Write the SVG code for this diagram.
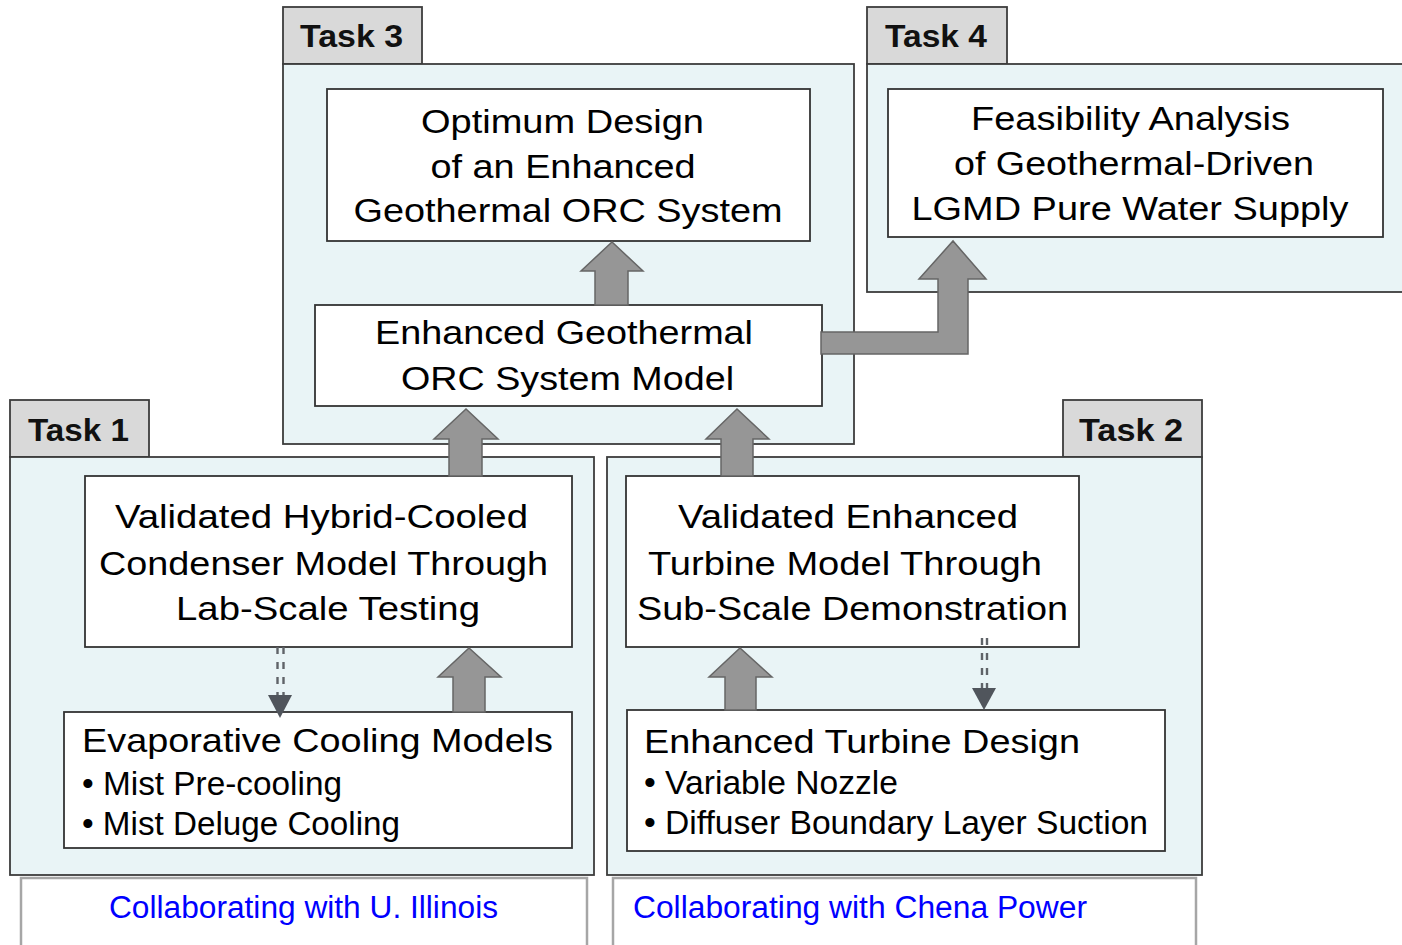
<svg xmlns="http://www.w3.org/2000/svg" width="1402" height="945" viewBox="0 0 1402 945">
<style>
.panel{fill:#e9f4f6;stroke:#3c3c3c;stroke-width:1.8}
.tab{fill:#d9d9d9;stroke:#3c3c3c;stroke-width:1.8}
.box{fill:#ffffff;stroke:#333333;stroke-width:1.8}
.collab{fill:#ffffff;stroke:#a6a6a6;stroke-width:2.5}
.tl{font-family:"Liberation Sans",Arial,sans-serif;font-weight:bold;font-size:32px;fill:#111}
.t{font-family:"Liberation Sans",Arial,sans-serif;font-size:34px;fill:#000}
.c{text-anchor:middle}
.blue{font-family:"Liberation Sans",Arial,sans-serif;font-size:31px;fill:#0000ff}
.fat{fill:#969696;stroke:#666666;stroke-width:1.5;stroke-linejoin:miter}
.dash{stroke:#5f6368;stroke-width:2.4;stroke-dasharray:7 8;fill:none}
.head{fill:#50555c}
</style>
<rect width="1402" height="945" fill="#ffffff"/>

<g id="task3">
<rect class="tab" x="283" y="7" width="139" height="57"/>
<rect class="panel" x="283" y="64" width="571" height="380"/>
<text class="tl" x="300" y="47" textLength="103" lengthAdjust="spacingAndGlyphs">Task 3</text>
</g>
<g id="task4">
<rect class="tab" x="867" y="7" width="140" height="57"/>
<rect class="panel" x="867" y="64" width="545" height="228"/>
<text class="tl" x="885" y="47" textLength="102" lengthAdjust="spacingAndGlyphs">Task 4</text>
</g>
<g id="task1">
<rect class="tab" x="10" y="400" width="139" height="57"/>
<rect class="panel" x="10" y="457" width="584" height="418"/>
<text class="tl" x="28" y="441" textLength="101" lengthAdjust="spacingAndGlyphs">Task 1</text>
</g>
<g id="task2">
<rect class="tab" x="1063" y="400" width="139" height="57"/>
<rect class="panel" x="607" y="457" width="595" height="418"/>
<text class="tl" x="1079" y="441" textLength="104" lengthAdjust="spacingAndGlyphs">Task 2</text>
</g>

<g id="optimum">
<rect class="box" x="327" y="89" width="483" height="152"/>
<text class="t c" x="562.5" y="133" textLength="283" lengthAdjust="spacingAndGlyphs">Optimum Design</text>
<text class="t c" x="563" y="178" textLength="265" lengthAdjust="spacingAndGlyphs">of an Enhanced</text>
<text class="t c" x="568" y="222" textLength="429" lengthAdjust="spacingAndGlyphs">Geothermal ORC System</text>
</g>
<g id="model">
<rect class="box" x="315" y="305" width="507" height="101"/>
<text class="t c" x="564" y="344" textLength="378" lengthAdjust="spacingAndGlyphs">Enhanced Geothermal</text>
<text class="t c" x="567.5" y="390" textLength="333" lengthAdjust="spacingAndGlyphs">ORC System Model</text>
</g>
<g id="feasibility">
<rect class="box" x="888" y="89" width="495" height="148"/>
<text class="t c" x="1130.5" y="130" textLength="319" lengthAdjust="spacingAndGlyphs">Feasibility Analysis</text>
<text class="t c" x="1134" y="175" textLength="360" lengthAdjust="spacingAndGlyphs">of Geothermal-Driven</text>
<text class="t c" x="1130" y="220" textLength="437" lengthAdjust="spacingAndGlyphs">LGMD Pure Water Supply</text>
</g>
<g id="condenser">
<rect class="box" x="85" y="476" width="487" height="171"/>
<text class="t c" x="321.5" y="528" textLength="413" lengthAdjust="spacingAndGlyphs">Validated Hybrid-Cooled</text>
<text class="t c" x="323.5" y="575" textLength="449" lengthAdjust="spacingAndGlyphs">Condenser Model Through</text>
<text class="t c" x="328" y="620" textLength="304" lengthAdjust="spacingAndGlyphs">Lab-Scale Testing</text>
</g>
<g id="evaporative">
<rect class="box" x="64" y="712" width="508" height="136"/>
<text class="t" x="82" y="752" textLength="471" lengthAdjust="spacingAndGlyphs">Evaporative Cooling Models</text>
<text class="t" x="82" y="795" textLength="260" lengthAdjust="spacingAndGlyphs">• Mist Pre-cooling</text>
<text class="t" x="82" y="835" textLength="318" lengthAdjust="spacingAndGlyphs">• Mist Deluge Cooling</text>
</g>
<g id="turbine">
<rect class="box" x="626" y="476" width="453" height="171"/>
<text class="t c" x="848" y="528" textLength="340" lengthAdjust="spacingAndGlyphs">Validated Enhanced</text>
<text class="t c" x="845" y="575" textLength="394" lengthAdjust="spacingAndGlyphs">Turbine Model Through</text>
<text class="t c" x="852.5" y="620" textLength="431" lengthAdjust="spacingAndGlyphs">Sub-Scale Demonstration</text>
</g>
<g id="turbine-design">
<rect class="box" x="627" y="710" width="538" height="141"/>
<text class="t" x="644" y="753" textLength="436" lengthAdjust="spacingAndGlyphs">Enhanced Turbine Design</text>
<text class="t" x="644" y="794" textLength="254" lengthAdjust="spacingAndGlyphs">• Variable Nozzle</text>
<text class="t" x="644" y="834" textLength="504" lengthAdjust="spacingAndGlyphs">• Diffuser Boundary Layer Suction</text>
</g>
<g id="collab1">
<rect class="collab" x="21" y="878" width="566" height="80"/>
<text class="blue" x="109" y="918" textLength="389" lengthAdjust="spacingAndGlyphs">Collaborating with U. Illinois</text>
</g>
<g id="collab2">
<rect class="collab" x="613" y="878" width="583" height="80"/>
<text class="blue" x="633" y="918" textLength="454" lengthAdjust="spacingAndGlyphs">Collaborating with Chena Power</text>
</g>

<g id="connectors">
<polygon class="fat" points="595,305 595,271 581,271 612,242 643,271 628,271 628,305"/>
<polygon class="fat" points="821,332 938,332 938,279 919,279 953,241 986,279 968,279 968,354 821,354"/>
<polygon class="fat" points="449,476 449,439 434,439 466,409 498,439 482,439 482,476"/>
<polygon class="fat" points="721,476 721,439 706,439 737,409 769,439 753,439 753,476"/>
<polygon class="fat" points="453,712 453,677 438,677 469,648 501,677 485,677 485,712"/>
<polygon class="fat" points="725,710 725,677 709,677 740,648 772,677 756,677 756,710"/>
<line class="dash" x1="277.5" y1="647" x2="277.5" y2="697"/>
<line class="dash" x1="283.5" y1="647" x2="283.5" y2="697"/>
<polygon class="head" points="268,695 292,695 280,718"/>
<line class="dash" x1="982" y1="638" x2="982" y2="690"/>
<line class="dash" x1="987" y1="638" x2="987" y2="690"/>
<polygon class="head" points="972,688 996,688 984,710"/>
</g>
</svg>
